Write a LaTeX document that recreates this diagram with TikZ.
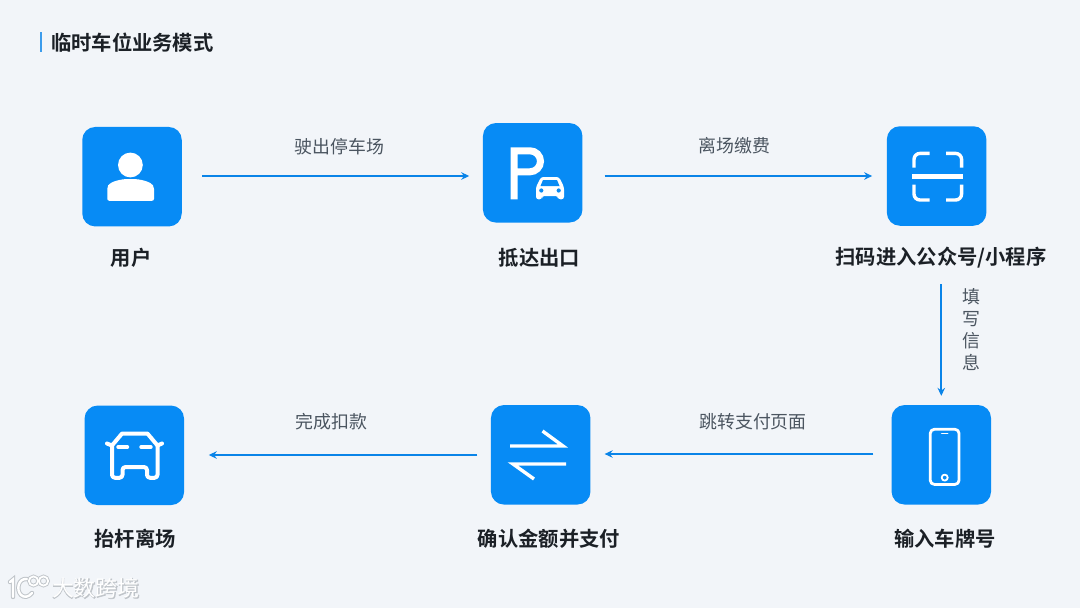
\documentclass[tikz,border=0pt]{standalone}
\usepackage{fontspec}
\setmainfont{Noto Sans CJK SC}[BoldFont={* Bold}]
\newfontfamily\cjkb{Noto Sans CJK SC}[UprightFont={* Bold}]
\newfontfamily\cjkr{Noto Sans CJK SC}
\newfontfamily\cjkfat{Noto Sans CJK SC}[RawFeature={embolden=3}]
\usetikzlibrary{arrows.meta}
\definecolor{bgc}{HTML}{F2F5F9}
\definecolor{boxc}{HTML}{078BF5}
\definecolor{arrowc}{HTML}{0A84E8}
\definecolor{barc}{HTML}{3C9CEC}
\definecolor{labc}{HTML}{4B5560}
\definecolor{titc}{HTML}{1B2026}
\definecolor{markc}{HTML}{BFC4C9}
\tikzset{
  iconbox/.style={fill=boxc,draw=none,rounded corners=13pt,minimum width=#1,minimum height=99.5pt,inner sep=0pt},
  iconbox/.default=99.5pt,
  flow/.style={draw=arrowc,line width=2.2pt,-{Stealth[length=8pt,width=7.5pt]}},
  caption/.style={font=\cjkb\fontsize{20.3}{24}\selectfont,text=titc,inner sep=0pt},
  edgelab/.style={font=\cjkr\fontsize{17.9}{22}\selectfont,text=labc,inner sep=0pt},
  ink/.style={draw=white,line width=#1,line cap=round,line join=round},
  ink/.default=3pt,
  markunder/.style={draw=markc,line width=4.4pt,line cap=round},
  markover/.style={draw=white,line width=2.4pt,line cap=round}
}
\begin{document}
\begin{tikzpicture}[x=1pt,y=-1pt]
\useasboundingbox (0,0) rectangle (1080,608);
\fill[bgc] (0,0) rectangle (1080,608);

% title
\fill[barc] (40,32) rectangle (42.4,52);
\node[anchor=west,font=\cjkb\fontsize{20.3}{24}\selectfont,text=titc,inner sep=0pt] (title) at (51,42.5) {临时车位业务模式};

% boxes
\node[iconbox] (user) at (132,176.7) {};
\node[iconbox] (park) at (532.7,172.8) {};
\node[iconbox] (scan) at (936.6,176) {};
\node[iconbox] (phone) at (941.3,454.8) {};
\node[iconbox] (swap) at (540.7,454.8) {};
\node[iconbox] (car) at (134.3,455.3) {};

% user icon
\fill[white] (130.4,165) circle (12.4);
\fill[white,rounded corners=2pt] (107.3,200.8) -- (107.3,187) .. controls (110,182) and (120,179) .. (130.4,179) .. controls (141,179) and (151,182) .. (154,187) -- (154,200.8) -- cycle;

% parking icon
\draw[white,line width=7pt,line join=miter] (514.2,199.3) -- (514.2,150.8) -- (530,150.8) arc (-90:90:10.5) -- (514.2,171.8);
\fill[boxc] (534,175) rectangle (567,202);
\fill[white,rounded corners=2.5pt] (536,199.3) -- (536,187) -- (541,177) -- (559,177) -- (564,187) -- (564,199.3) -- (558,199.3) -- (558,196) -- (542,196) -- (542,199.3) -- cycle;
\fill[boxc] (543,180) -- (557,180) -- (559.5,186) -- (540.5,186) -- cycle;
\fill[boxc] (541.3,190.5) circle (2.1);
\fill[boxc] (558.7,190.5) circle (2.1);

% scan icon
\draw[ink=3.4pt,line cap=butt,rounded corners=6pt] (929.5,153.4) -- (914,153.4) -- (914,167.5);
\draw[ink=3.4pt,line cap=butt,rounded corners=6pt] (946,153.4) -- (961.6,153.4) -- (961.6,167.5);
\draw[ink=3.4pt,line cap=butt,rounded corners=6pt] (929.5,200) -- (914,200) -- (914,184.5);
\draw[ink=3.4pt,line cap=butt,rounded corners=6pt] (946,200) -- (961.6,200) -- (961.6,184.5);
\fill[white] (912.3,174) rectangle (963.3,178.8);

% phone icon
\draw[ink=2.8pt,rounded corners=4pt] (930.3,429.3) rectangle (959,484.4);
\draw[ink=1.7pt] (941.8,433.4) -- (947.6,433.4);
\draw[ink=1.8pt] (944.7,477.6) circle (3);

% swap icon
\draw[ink=3.4pt,line cap=butt,line join=miter] (510,446) -- (563,446) -- (542.5,431);
\draw[ink=3.4pt,line cap=butt,line join=miter] (566,464) -- (513,464) -- (534,479);

% car icon
\draw[ink=4pt] (107,443.5) -- (112,445.5) -- (122,433.6) -- (147.5,433.6) -- (157.5,445.5) -- (162,443.5);
\draw[ink=4pt,rounded corners=3pt] (112,445.5) -- (112,477.8) -- (122.5,477.8) -- (122.5,467) -- (147,467) -- (147,477.8) -- (157.5,477.8) -- (157.5,445.5);
\draw[ink=3.4pt] (118,447) -- (127.5,447);
\draw[ink=3.4pt] (141,447) -- (151,447);

% connectors
\draw[flow] ([xshift=20.5pt,yshift=0.7pt]user.east) -- ([xshift=-13.5pt,yshift=-3.2pt]park.west);
\draw[flow] ([xshift=22pt,yshift=-3.2pt]park.east) -- ([xshift=-14.5pt]scan.west);
\draw[flow] ([xshift=4.7pt,yshift=-58.5pt]scan.south) -- ([yshift=9pt]phone.north);
\draw[flow] ([xshift=-18pt,yshift=0.8pt]phone.west) -- ([xshift=14pt,yshift=0.8pt]swap.east);
\draw[flow] ([xshift=-13.5pt,yshift=-0.2pt]swap.west) -- ([xshift=24.5pt,yshift=0.3pt]car.east);

% captions
\node[caption] (c1) at (131,258) {用户};
\node[caption] (c2) at (539.5,258) {抵达出口};
\node[caption] (c3) at (941,258) {扫码进入公众号/小程序};
\node[caption] (c4) at (945,538.5) {输入车牌号};
\node[caption] (c5) at (549,538.5) {确认金额并支付};
\node[caption] (c6) at (135,538.5) {抬杆离场};

% edge labels
\node[edgelab] (l1) at (339.5,146.5) {驶出停车场};
\node[edgelab] (l2) at (734.5,146) {离场缴费};
\node[edgelab,align=center] (l3) at (971.5,329.5) {填\\写\\信\\息};
\node[edgelab] (l4) at (753,422) {跳转支付页面};
\node[edgelab] (l5) at (331.5,422) {完成扣款};

% watermark
\draw[markunder] (10,582) -- (13,579.5) -- (13,597);
\draw[markunder] (27,579) .. controls (18,578) and (16,590) .. (21,595) .. controls (24,598) and (29,597) .. (32,593);
\draw[markunder,line width=3.6pt] (33.5,581) circle (4.6);
\draw[markunder,line width=3.6pt] (43.5,581) circle (4.6);
\draw[markover] (10,582) -- (13,579.5) -- (13,597);
\draw[markover] (27,579) .. controls (18,578) and (16,590) .. (21,595) .. controls (24,598) and (29,597) .. (32,593);
\draw[markover,line width=1.8pt] (33.5,581) circle (4.6);
\draw[markover,line width=1.8pt] (43.5,581) circle (4.6);
\node[font=\cjkfat\fontsize{22}{26}\selectfont,text=markc,inner sep=0pt] (wmb) at (96,588.5) {大数跨境};
\node[font=\cjkr\fontsize{22}{26}\selectfont,text=white,inner sep=0pt] (wm) at (96,588.5) {大数跨境};
\end{tikzpicture}
\end{document}
